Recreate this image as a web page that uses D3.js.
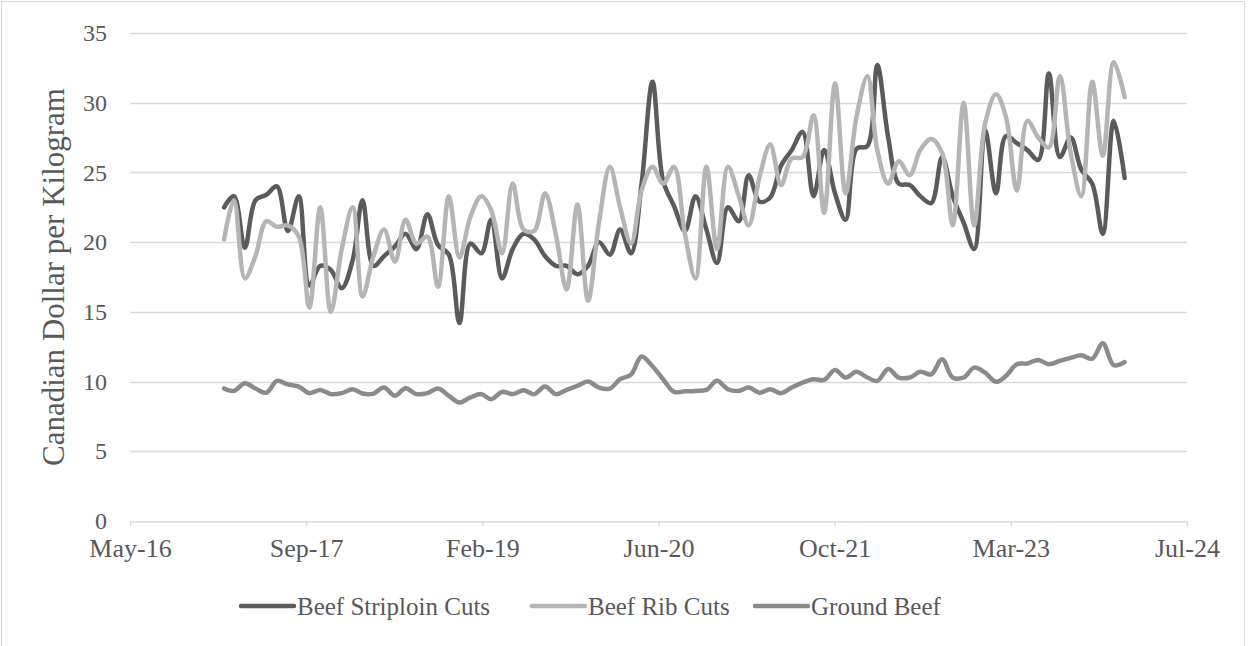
<!DOCTYPE html>
<html>
<head>
<meta charset="utf-8">
<script src="https://cdn.jsdelivr.net/npm/d3@7"></script>
<style>
  html, body { margin: 0; padding: 0; background: #fff; }
  svg { display: block; font-family: "Liberation Serif", "Times New Roman", serif; }
</style>
</head>
<body>
<svg id="chart" width="1250" height="646"></svg>
<script>
// Monthly retail prices, Feb 2017 – Feb 2024 (CAD per kg)
const firstMonth = "2017-02-01";
const lastMonth = "2024-02-01";

const striploin = [
  22.5, 23.3, 19.6, 23.0, 23.4, 24.0, 20.8, 23.3, 16.9, 18.3,
  18.0, 16.7, 18.7, 23.0, 18.3, 19.0, 19.7, 20.6, 19.5, 22.0,
  19.8, 19.1, 14.2, 19.9, 19.2, 21.6, 17.4, 19.5, 20.6, 20.2,
  19.0, 18.3, 18.3, 17.7, 18.3, 20.0, 19.1, 20.9, 19.2, 24.2,
  31.5, 24.4, 22.6, 20.8, 23.3, 20.9, 18.5, 22.5, 21.5, 24.8,
  22.9, 23.2, 25.5, 26.6, 27.9, 23.3, 26.6, 23.5, 21.6, 26.7,
  26.9, 32.7, 27.5, 24.2, 24.1, 23.3, 22.8, 26.1, 23.3, 21.4,
  19.5, 28.0, 23.5, 27.6, 27.1, 26.6, 25.9, 32.1, 26.1, 27.5,
  25.2, 24.2, 20.6, 28.7, 24.6
];

const ribCuts = [
  20.2, 23.0, 17.4, 19.0, 21.5, 21.1, 21.2, 20.4, 15.3, 22.5,
  15.0, 19.5, 22.5, 16.1, 19.0, 20.9, 18.6, 21.6, 19.9, 20.4,
  16.8, 23.3, 18.9, 21.8, 23.3, 22.3, 19.2, 24.2, 20.9, 20.8,
  23.5, 20.5, 16.6, 22.7, 15.8, 21.4, 25.4, 22.5, 19.9, 23.7,
  25.4, 24.2, 25.4, 20.6, 17.4, 25.4, 19.5, 25.4, 23.3, 21.2,
  24.7, 27.0, 24.1, 26.0, 26.1, 29.1, 22.1, 31.4, 23.5, 29.0,
  31.9, 26.6, 24.2, 25.8, 24.8, 26.6, 27.4, 26.4, 21.2, 30.0,
  21.2, 28.5, 30.6, 29.0, 23.7, 28.7, 27.5, 26.8, 31.9, 26.4,
  23.3, 31.5, 26.2, 32.9, 30.4
];

const groundBeef = [
  9.50, 9.33, 9.88, 9.50, 9.20, 10.05, 9.80, 9.64, 9.17, 9.40,
  9.10, 9.17, 9.45, 9.14, 9.14, 9.57, 8.98, 9.52, 9.10, 9.17,
  9.50, 8.98, 8.50, 8.86, 9.10, 8.74, 9.26, 9.10, 9.37, 9.10,
  9.64, 9.10, 9.40, 9.70, 10.00, 9.57, 9.50, 10.17, 10.50, 11.80,
  11.10, 10.17, 9.26, 9.30, 9.33, 9.40, 10.05, 9.45, 9.33, 9.57,
  9.20, 9.45, 9.17, 9.57, 9.93, 10.17, 10.12, 10.83, 10.29, 10.70,
  10.29, 10.05, 10.90, 10.29, 10.29, 10.70, 10.52, 11.60, 10.29, 10.29,
  11.00, 10.64, 9.98, 10.40, 11.24, 11.30, 11.55, 11.24, 11.48, 11.70,
  11.88, 11.64, 12.74, 11.17, 11.40
];

// Date axis: one major unit every 500 days
const xTickDates = ["2016-05-10", "2017-09-22", "2019-02-04", "2020-06-18", "2021-10-31", "2023-03-15", "2024-07-27"];
const yTicks = [0, 5, 10, 15, 20, 25, 30, 35];

const seriesNames = ["Beef Striploin Cuts", "Beef Rib Cuts", "Ground Beef"];
const seriesColors = ["#5b5b5b", "#b5b5b5", "#8b8b8b"];

const parse = d3.utcParse("%Y-%m-%d");
const months = d3.utcMonth.range(parse(firstMonth), d3.utcMonth.offset(parse(lastMonth), 1));
const tickDates = xTickDates.map(parse);

const series = [striploin, ribCuts, groundBeef].map((vals, k) => ({
  name: seriesNames[k],
  color: seriesColors[k],
  points: vals.map((v, i) => ({ date: months[i], value: v }))
}));

const svg = d3.select("#chart");
const plot = { left: 130, right: 1187, top: 33, bottom: 521 };
const serif = "'Liberation Serif', 'Times New Roman', serif";

// Outer chart frame
svg.append("rect")
  .attr("x", 1.5).attr("y", 1.5)
  .attr("width", 1243).attr("height", 660)
  .attr("fill", "none").attr("stroke", "#d9d9d9").attr("stroke-width", 1);

const x = d3.scaleUtc()
  .domain([tickDates[0], tickDates[tickDates.length - 1]])
  .range([plot.left, plot.right]);

const y = d3.scaleLinear()
  .domain([0, 35])
  .range([plot.bottom, plot.top]);

// Horizontal gridlines
svg.append("g")
  .selectAll("line")
  .data(yTicks.filter(t => t > 0))
  .join("line")
  .attr("x1", plot.left).attr("x2", plot.right)
  .attr("y1", d => Math.round(y(d)) + 0.5).attr("y2", d => Math.round(y(d)) + 0.5)
  .attr("stroke", "#d9d9d9").attr("stroke-width", 1.3);

// Y axis labels
const yAxis = d3.axisLeft(y).tickValues(yTicks).tickSize(0).tickPadding(23);
const gy = svg.append("g").attr("transform", `translate(${plot.left},0)`).call(yAxis);
gy.select(".domain").remove();
gy.selectAll("text")
  .attr("font-family", serif)
  .attr("font-size", 24).attr("fill", "#595959");

// X axis
const xAxis = d3.axisBottom(x)
  .tickValues(tickDates)
  .tickFormat(d3.utcFormat("%b-%y"))
  .tickSize(5).tickSizeOuter(0).tickPadding(12);
const gx = svg.append("g").attr("transform", `translate(0,${Math.round(plot.bottom) + 0.5})`).call(xAxis);
gx.select(".domain").attr("stroke", "#d9d9d9").attr("stroke-width", 1.3);
gx.selectAll(".tick line").attr("stroke", "#d9d9d9").attr("stroke-width", 1.3);
gx.selectAll("text")
  .attr("font-family", serif)
  .attr("font-size", 26).attr("fill", "#595959");

// Y axis title
svg.append("text")
  .attr("transform", `translate(64,277) rotate(-90)`)
  .attr("text-anchor", "middle")
  .attr("font-family", serif)
  .attr("font-size", 31).attr("fill", "#595959")
  .text("Canadian Dollar per Kilogram");

// Smoothed price lines
const line = d3.line()
  .x(d => x(d.date))
  .y(d => y(d.value))
  .curve(d3.curveCatmullRom.alpha(0.5));

svg.append("g")
  .selectAll("path")
  .data(series)
  .join("path")
  .attr("d", d => line(d.points))
  .attr("fill", "none")
  .attr("stroke", d => d.color)
  .attr("stroke-width", 4.5)
  .attr("stroke-linecap", "round")
  .attr("stroke-linejoin", "round");

// Legend
const legendItems = [
  { x: 241, s: series[0] },
  { x: 532, s: series[1] },
  { x: 755, s: series[2] }
];
const lg = svg.append("g").selectAll("g").data(legendItems).join("g")
  .attr("transform", d => `translate(${d.x},606)`);
lg.append("line")
  .attr("x1", 0).attr("x2", 53).attr("y1", 0).attr("y2", 0)
  .attr("stroke", d => d.s.color).attr("stroke-width", 4.5).attr("stroke-linecap", "round");
lg.append("text")
  .attr("x", 56).attr("y", 8.5)
  .attr("font-family", serif)
  .attr("font-size", 25).attr("fill", "#595959")
  .text(d => d.s.name);
</script>
</body>
</html>
